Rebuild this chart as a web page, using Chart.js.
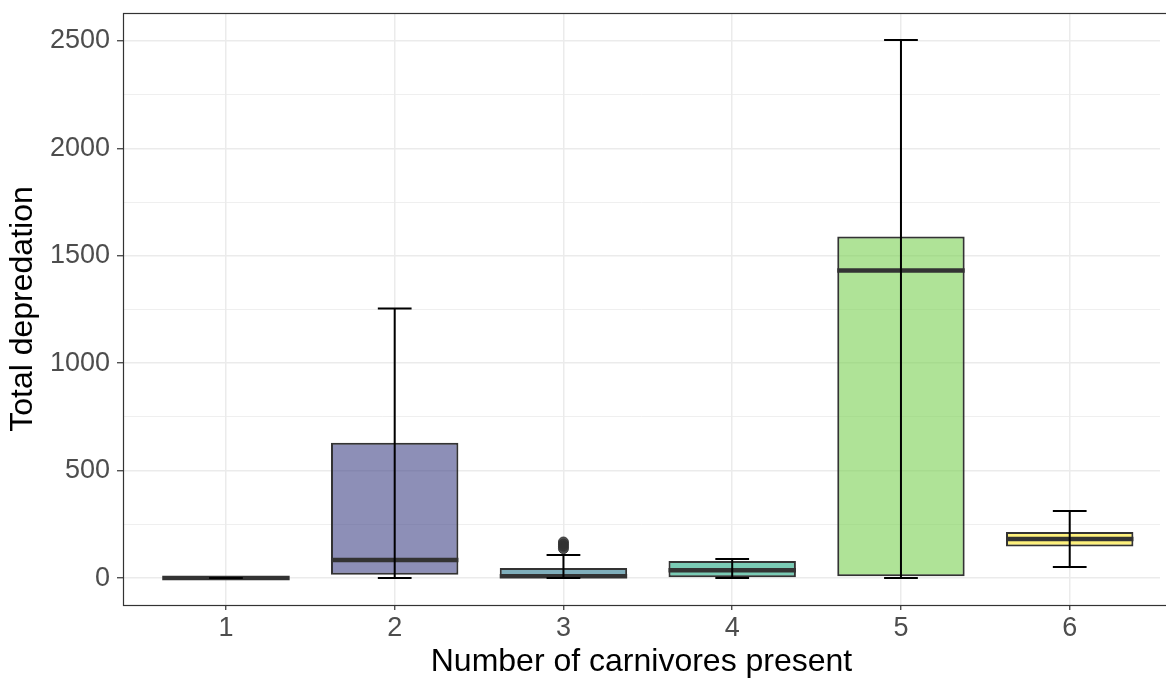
<!DOCTYPE html>
<html>
<head>
<meta charset="utf-8">
<script src="https://cdn.jsdelivr.net/npm/chart.js@4.4.1/dist/chart.umd.min.js"></script>
<style>
  html, body { margin: 0; padding: 0; background: #fff; overflow: hidden; }
  #wrap { width: 1166px; height: 681px; position: relative; }
  canvas { display: block; }
</style>
</head>
<body>
<div id="wrap"><canvas id="boxChart"></canvas></div>
<script>
// Boxplot summaries per number of carnivores
const categories = [1, 2, 3, 4, 5, 6];
const whiskerLow = [0, 0, 0, 0, 0, 51];
const q1 = [0, 15, 2, 0, 8, 147];
const median = [0, 84, 8, 37, 1432, 182];
const q3 = [0, 630, 47, 79, 1590, 215];
const whiskerHigh = [0, 1255, 107, 89, 2505, 312];
const outlierCat = [3, 3, 3, 3];
const outlierVal = [168, 158, 148, 137];

// Axis ticks
const yMajorTicks = [0, 500, 1000, 1500, 2000, 2500];
const yMinorTicks = [250, 750, 1250, 1750, 2250];

// viridis(6), drawn with alpha 0.6
const boxColors = ["#440154", "#414487", "#2A788E", "#22A884", "#7AD151", "#FDE725"];

function withAlpha(hex, a) {
  const n = parseInt(hex.slice(1), 16);
  return `rgba(${(n >> 16) & 255},${(n >> 8) & 255},${n & 255},${a})`;
}

// medians + error bars, drawn on top of the boxes using the chart's scales
const boxExtras = {
  id: "boxExtras",
  afterDatasetsDraw(chart) {
    const ctx = chart.ctx;
    const xs = chart.scales.x, ys = chart.scales.y;
    const bars = chart.getDatasetMeta(1).data;
    ctx.save();
    // median lines
    ctx.strokeStyle = "#333333";
    ctx.lineWidth = 4.5;
    bars.forEach((bar, i) => {
      const { x, width } = bar.getProps(["x", "width"], true);
      const py = ys.getPixelForValue(median[i]);
      ctx.beginPath();
      ctx.moveTo(x - width / 2, py);
      ctx.lineTo(x + width / 2, py);
      ctx.stroke();
    });
    // error bars (whiskers with caps)
    ctx.strokeStyle = "#000000";
    ctx.lineWidth = 2;
    categories.forEach((c, i) => {
      const cx = xs.getPixelForValue(c);
      const lo = ys.getPixelForValue(whiskerLow[i]);
      const hi = ys.getPixelForValue(whiskerHigh[i]);
      const l = xs.getPixelForValue(c - 0.1), r = xs.getPixelForValue(c + 0.1);
      ctx.beginPath();
      ctx.moveTo(cx, lo); ctx.lineTo(cx, hi);
      ctx.moveTo(l, lo); ctx.lineTo(r, lo);
      ctx.moveTo(l, hi); ctx.lineTo(r, hi);
      ctx.stroke();
    });
    ctx.restore();
  },
  afterDraw(chart) {
    // panel border (theme_bw)
    const { left, top, right, bottom } = chart.chartArea;
    const ctx = chart.ctx;
    ctx.save();
    ctx.strokeStyle = "#333333";
    ctx.lineWidth = 1.2;
    ctx.strokeRect(left + 0.5, top + 0.5, right - left + 20, bottom - top);
    ctx.restore();
  }
};

const ctx = document.getElementById("boxChart").getContext("2d");

new Chart(ctx, {
  type: "bar",
  data: {
    datasets: [
      {
        type: "scatter",
        label: "outliers",
        data: outlierCat.map((c, i) => ({ x: c, y: outlierVal[i] })),
        backgroundColor: "rgba(51,51,51,0.85)",
        borderColor: "rgba(51,51,51,0.85)",
        pointRadius: 5,
        clip: false,
        xAxisID: "x",
        yAxisID: "y"
      },
      {
        type: "bar",
        label: "boxes",
        data: categories.map((c, i) => ({ x: c, y: [q1[i], q3[i]] })),
        backgroundColor: boxColors.map(c => withAlpha(c, 0.6)),
        borderColor: "#333333",
        borderWidth: 2,
        borderSkipped: false,
        barPercentage: 0.755,
        categoryPercentage: 1,
        xAxisID: "x",
        yAxisID: "y"
      }
    ]
  },
  options: {
    responsive: true,
    maintainAspectRatio: false,
    animation: false,
    layout: { padding: { top: 13, left: 0, right: 0, bottom: 0 } },
    plugins: {
      legend: { display: false },
      tooltip: { enabled: false }
    },
    scales: {
      x: {
        type: "linear",
        min: 0.39,
        max: 6.535,
        offset: false,
        afterBuildTicks: (scale) => { scale.ticks = categories.map(v => ({ value: v })); },
        afterFit: (scale) => {
          scale.height = 76;
          scale.paddingLeft = 0;
          scale.paddingRight = 0;
        },
        border: { display: false },
        grid: {
          offset: false,
          color: "#ebebeb",
          lineWidth: 1.5,
          tickColor: "#333333",
          tickLength: 5,
          tickWidth: 1.2
        },
        ticks: {
          autoSkip: false,
          maxRotation: 0,
          padding: 2,
          color: "#4d4d4d",
          font: { family: "'Liberation Sans', Arial, sans-serif", size: 27 },
          callback: (v) => String(v)
        },
        title: {
          display: true,
          text: "Number of carnivores present",
          color: "#000000",
          padding: { top: 0, bottom: 0 },
          font: { family: "'Liberation Sans', Arial, sans-serif", size: 32 }
        }
      },
      y: {
        type: "linear",
        min: -125.3,
        max: 2630.3,
        afterBuildTicks: (scale) => {
          scale.ticks = [...yMajorTicks, ...yMinorTicks]
            .sort((a, b) => a - b)
            .map(v => ({ value: v }));
        },
        afterFit: (scale) => {
          scale.width = 123;
          scale.paddingTop = 0;
          scale.paddingBottom = 0;
        },
        border: { display: false },
        grid: {
          color: "#ebebeb",
          lineWidth: (c) => (yMajorTicks.includes(c.tick && c.tick.value) ? 1.5 : 0.8),
          tickColor: (c) => (yMajorTicks.includes(c.tick && c.tick.value) ? "#333333" : "rgba(0,0,0,0)"),
          tickLength: 6,
          tickWidth: 1.2
        },
        ticks: {
          autoSkip: false,
          padding: 7,
          color: "#4d4d4d",
          font: { family: "'Liberation Sans', Arial, sans-serif", size: 27 },
          callback: (v) => (yMajorTicks.includes(v) ? String(v) : "")
        },
        title: {
          display: true,
          text: "Total depredation",
          color: "#000000",
          padding: { top: 4, bottom: 0 },
          font: { family: "'Liberation Sans', Arial, sans-serif", size: 32 }
        }
      }
    }
  },
  plugins: [boxExtras]
});
</script>
</body>
</html>
